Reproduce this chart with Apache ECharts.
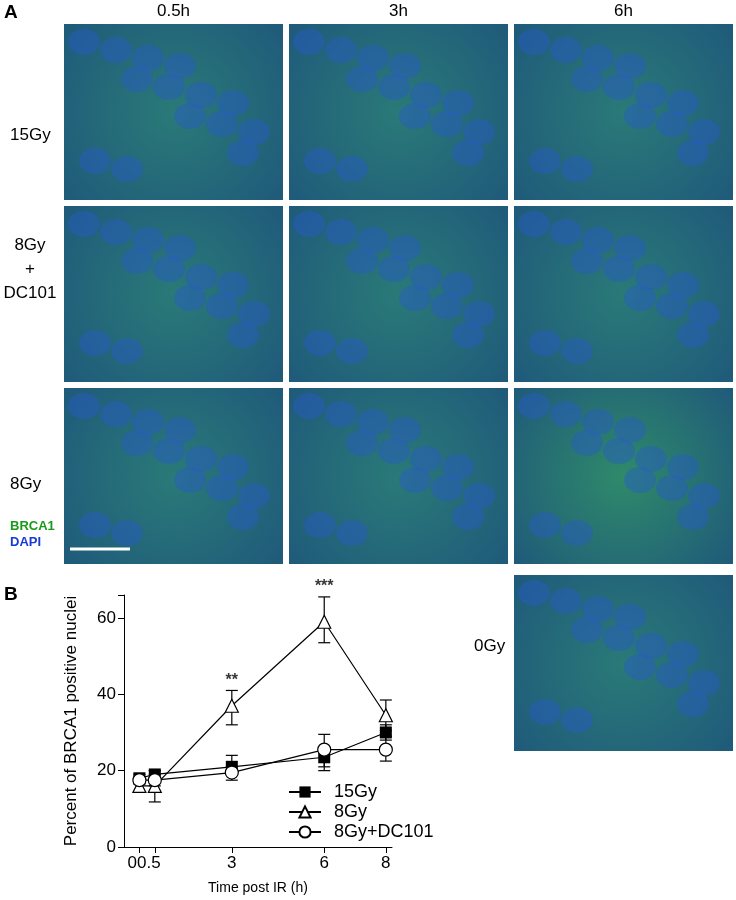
<!DOCTYPE html><html><head><meta charset="utf-8"><script src="https://cdn.jsdelivr.net/npm/echarts@6/dist/echarts.min.js"></script>
<style>html,body{margin:0;background:#fff}#c{width:736px;height:900px}</style></head><body><div id="c"></div><script>
const times=[0,0.5,3,6,8];
const s15=[18,19,21,23.5,30];
const s15Lo=[17,18,19,20,28];
const s15Hi=[19,20,24,26,32];
const s8=[16,16,37,59,34.5];
const s8Lo=[14.5,11.8,32,53.5,30.5];
const s8Hi=[17.5,20,41,65.5,38.5];
const sDC=[17.5,17.5,19.5,25.5,25.5];
const sDCLo=[16.5,16,17.5,21,22.5];
const sDCHi=[18.5,19,21,29.5,29];
const colLabels=['0.5h','3h','6h'];
const rowLabels=['15Gy','8Gy\n+\nDC101','8Gy'];
const chart=echarts.init(document.getElementById('c'));
function pair(v){return times.map((t,i)=>[t,v[i]]);}
function eb(lo,hi){return times.map((t,i)=>[t,lo[i],hi[i]]);}
function ebSeries(d){return {type:'custom',silent:true,z:1,data:d,encode:{x:0,y:[1,2]},renderItem:(p,api)=>{
 const x=api.value(0),a=api.coord([x,api.value(1)]),b=api.coord([x,api.value(2)]);
 const st={stroke:'#000',lineWidth:1.2};
 return {type:'group',children:[{type:'line',shape:{x1:a[0],y1:a[1],x2:b[0],y2:b[1]},style:st},
 {type:'line',shape:{x1:a[0]-6,y1:a[1],x2:a[0]+6,y2:a[1]},style:st},
 {type:'line',shape:{x1:b[0]-6,y1:b[1],x2:b[0]+6,y2:b[1]},style:st}]};}};}
const cols=[64,289,514],rows=[24,206,388],W=219,H=176;
const g=[];
function panel(x,y,bright){g.push({type:'rect',shape:{x:x,y:y,width:W,height:H},style:{fill:{type:'radial',x:0.5,y:0.5,r:0.8,colorStops:[{offset:0,color:bright?'#2f8a6a':'#2a7a78'},{offset:1,color:'#1f5a7a'}]}}});
 for(let k=0;k<14;k++){const cx=x+20+((k*53)%180),cy=y+18+((k*37)%140);g.push({type:'ellipse',shape:{cx:cx,cy:cy,rx:16,ry:13},style:{fill:'rgba(40,90,200,0.45)'}});}}
rows.forEach((ry,ri)=>cols.forEach((cx,ci)=>panel(cx,ry,ri===2&&ci===2)));
panel(514,575,false);
g.push({type:'text',left:4,top:3,style:{text:'A',font:'bold 19px Arial',fill:'#000'}});
g.push({type:'text',left:4,top:585,style:{text:'B',font:'bold 19px Arial',fill:'#000'}});
colLabels.forEach((t,i)=>g.push({type:'text',x:cols[i]+W/2,y:3,style:{text:t,font:'17px Arial',fill:'#000',align:'center'}}));
[[10,123],[30,233],[10,472]].forEach((p,i)=>g.push({type:'text',x:p[0],y:p[1],style:{text:rowLabels[i],font:'17px Arial',fill:'#000',lineHeight:24,align:i===1?'center':'left'}}));
g.push({type:'text',x:10,y:520,style:{text:'BRCA1',font:'bold 13px Arial',fill:'#1a9a1a'}});
g.push({type:'text',x:10,y:536,style:{text:'DAPI',font:'bold 13px Arial',fill:'#1a3ad8'}});
g.push({type:'line',shape:{x1:70,y1:549,x2:130,y2:549},style:{stroke:'#fff',lineWidth:3}});
g.push({type:'text',x:474,y:638,style:{text:'0Gy',font:'17px Arial',fill:'#000'}});
chart.setOption({animation:false,graphic:g,
grid:{left:124,right:344,top:595,bottom:53},
legend:{orient:'vertical',left:283,top:778,itemGap:2,itemWidth:32,itemHeight:14,textStyle:{fontSize:18,color:'#000',fontFamily:'Arial',padding:[0,0,0,8]},data:['15Gy','8Gy','8Gy+DC101']},
xAxis:{type:'value',min:-0.5,max:8.2,axisLine:{lineStyle:{color:'#000'}},axisTick:{customValues:[0,0.5,3,6,8],length:6,lineStyle:{color:'#000'}},axisLabel:{customValues:[0,3,6,8],color:'#000',fontSize:17,formatter:v=>v===0?'  00.5':v,margin:8},splitLine:{show:false},name:'Time post IR (h)',nameLocation:'middle',nameGap:34,nameTextStyle:{fontSize:14,color:'#000'}},
yAxis:{type:'value',min:0,max:66,interval:20,axisLine:{show:true,onZero:false,lineStyle:{color:'#000'}},axisTick:{show:true,length:6,lineStyle:{color:'#000'}},axisLabel:{color:'#000',fontSize:17,formatter:v=>v>60?'':v},splitLine:{show:false},name:'Percent of BRCA1 positive nuclei',nameLocation:'middle',nameGap:44,nameTextStyle:{fontSize:17,color:'#000'}},
series:[ebSeries(eb(s15Lo,s15Hi)),ebSeries(eb(s8Lo,s8Hi)),ebSeries(eb(sDCLo,sDCHi)),
{name:'15Gy',type:'line',data:pair(s15),symbol:'rect',symbolSize:12,z:3,lineStyle:{color:'#000',width:1.2},itemStyle:{color:'#000'}},
{name:'8Gy',type:'line',data:pair(s8),symbol:'triangle',symbolSize:13,z:4,lineStyle:{color:'#000',width:1.2},itemStyle:{color:'#fff',borderColor:'#000',borderWidth:1.2}},
{name:'8Gy+DC101',type:'line',data:pair(sDC),symbol:'circle',symbolSize:13,z:5,lineStyle:{color:'#000',width:1.2},itemStyle:{color:'#fff',borderColor:'#000',borderWidth:1.2}},
{type:'scatter',silent:true,symbolSize:0,data:[[3,41,'**'],[6,65.5,'***']],label:{show:true,position:'top',formatter:p=>p.data[2],fontSize:16,fontWeight:'bold',color:'#000',distance:2}}]});
</script></body></html>
